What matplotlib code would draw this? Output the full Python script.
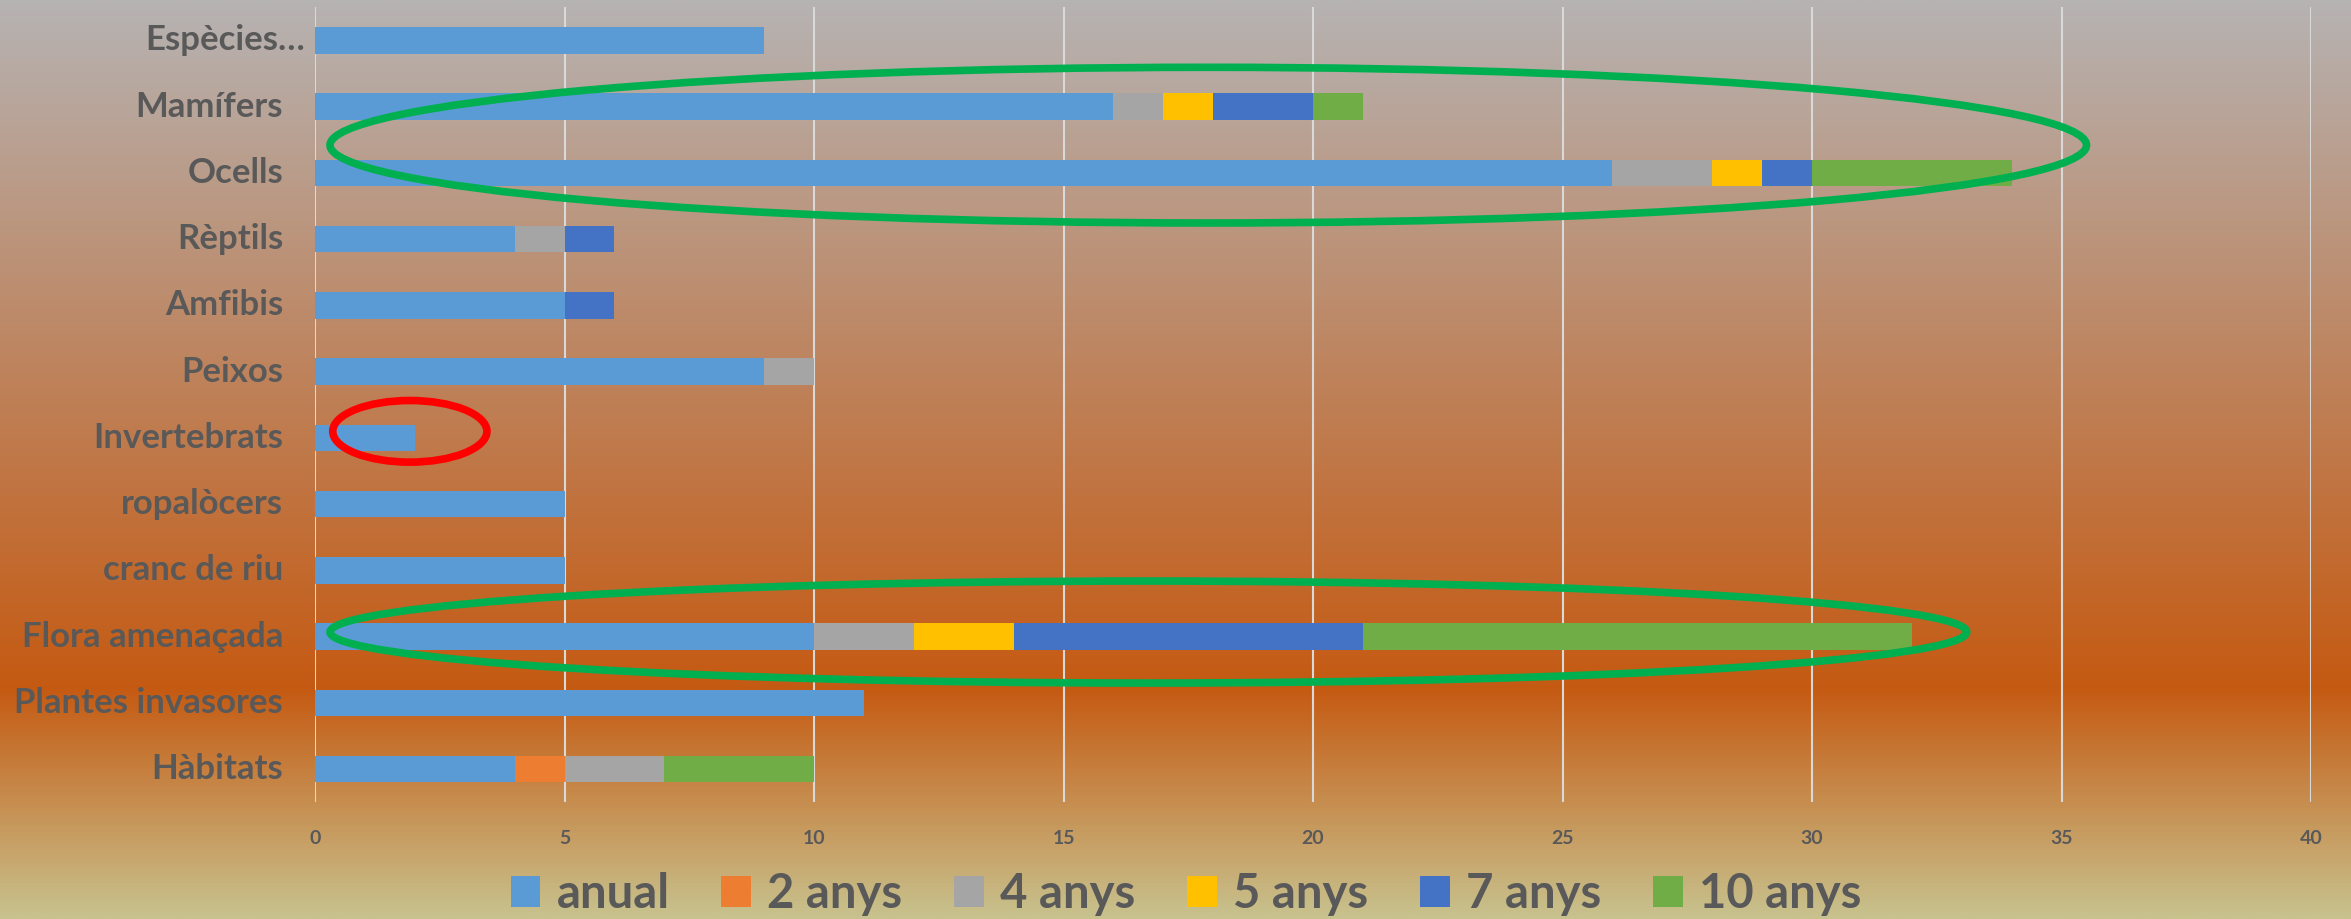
import matplotlib.pyplot as plt
import numpy as np
from matplotlib.patches import Ellipse
from matplotlib.colors import LinearSegmentedColormap

plt.rcParams["font.family"] = ["Lato", "DejaVu Sans"]
plt.rcParams["font.weight"] = "bold"

categories = ["Espècies…", "Mamífers", "Ocells", "Rèptils", "Amfibis", "Peixos",
              "Invertebrats", "ropalòcers", "cranc de riu", "Flora amenaçada",
              "Plantes invasores", "Hàbitats"]
series = ["anual", "2 anys", "4 anys", "5 anys", "7 anys", "10 anys"]
anual = [9, 16, 26, 4, 5, 9, 2, 5, 5, 10, 11, 4]
anys2 = [0, 0, 0, 0, 0, 0, 0, 0, 0, 0, 0, 1]
anys4 = [0, 1, 2, 1, 0, 1, 0, 0, 0, 2, 0, 2]
anys5 = [0, 1, 1, 0, 0, 0, 0, 0, 0, 2, 0, 0]
anys7 = [0, 2, 1, 1, 1, 0, 0, 0, 0, 7, 0, 0]
anys10 = [0, 1, 4, 0, 0, 0, 0, 0, 0, 11, 0, 3]
colors = ["#5B9BD5", "#ED7D31", "#A5A5A5", "#FFC000", "#4472C4", "#70AD47"]
text_col = "#595959"

fig = plt.figure(figsize=(23.51, 9.19), dpi=100)

# gradient background
bg = fig.add_axes([0, 0, 1, 1], zorder=-10)
cmap = LinearSegmentedColormap.from_list(
    "bg", [(0.0, "#B6B3B3"), (0.75, "#C55A12"), (1.0, "#C8C28E")])
bg.imshow(np.linspace(0, 1, 512).reshape(-1, 1), aspect="auto", cmap=cmap,
          extent=[0, 1, 1, 0])
bg.axis("off")

ax = fig.add_axes([0.134, 0.127, 0.849, 0.865])
ax.patch.set_alpha(0)
y = np.arange(len(categories))
left = np.zeros(len(categories))
for name, vals, c in zip(series, [anual, anys2, anys4, anys5, anys7, anys10], colors):
    ax.barh(y, vals, left=left, height=0.4, color=c, label=name, zorder=3)
    left += np.array(vals)

ax.set_xlim(0, 40)
ax.set_ylim(len(categories) - 0.5, -0.5)
ax.set_xticks(range(0, 41, 5))
ax.grid(axis="x", color="#D9D9D9", lw=1.5, zorder=1)
ax.set_axisbelow(True)
for s in ax.spines.values():
    s.set_visible(False)
ax.tick_params(axis="x", length=0, pad=20, labelsize=14, labelcolor=text_col)
ax.tick_params(axis="y", length=0)
ax.set_yticks(y)
ax.set_yticklabels([])
for i, cat in enumerate(categories):
    xoff = -0.005 if i == 0 else -0.016
    ax.text(xoff, i, cat, transform=ax.get_yaxis_transform(), ha="right",
            va="center", fontsize=25, color=text_col, fontweight="bold")

# highlight ellipses
ax.add_patch(Ellipse((17.9, 1.58), 35.2, 2.35, fill=False, ec="#00B050", lw=5.5, zorder=5))
ax.add_patch(Ellipse((16.7, 8.93), 32.8, 1.54, fill=False, ec="#00B050", lw=5.5, zorder=5))
ax.add_patch(Ellipse((1.9, 5.9), 3.09, 0.93, fill=False, ec="#FF0000", lw=5.5, zorder=5))

h, l = ax.get_legend_handles_labels()
fig.legend(h, l, loc="center", bbox_to_anchor=(1186 / 2351, 1 - 894 / 919), ncol=6,
           frameon=False, fontsize=34, handlelength=0.62, handleheight=0.62,
           handletextpad=0.35, columnspacing=1.1, labelcolor=text_col)

fig.savefig("out.png", dpi=100)
plt.close()
